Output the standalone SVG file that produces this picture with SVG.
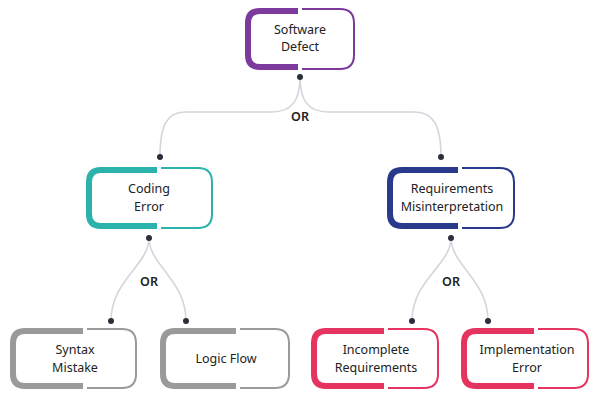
<svg xmlns="http://www.w3.org/2000/svg" width="601" height="402" viewBox="0 0 601 402">
<style>
text{font-family:"Noto Sans","Open Sans",sans-serif;font-size:12.5px;fill:#222;text-anchor:middle}
.th{fill:none;stroke-width:6}
.tn{fill:none;stroke-width:2}
.c{fill:none;stroke:#d3d6dc;stroke-width:1.6}
.or{font-weight:600;font-size:12.5px}
</style>
<rect width="601" height="402" fill="#fff"/>
<g id="connectors">
<path class="c" d="M300,77 C300,100 292,112 272,112 L185,112 C167,112 160,125 160,157"/>
<path class="c" d="M300,77 C300,100 308,112 328,112 L415,112 C433,112 441,125 441,157"/>
<path class="c" d="M149,238 C149,265 111,280 111,321"/>
<path class="c" d="M149,238 C149,265 186,280 186,321"/>
<path class="c" d="M451,238 C451,265 412,280 412,321"/>
<path class="c" d="M451,238 C451,265 488,280 488,321"/>
<g fill="#2a2f3a">
<circle cx="300" cy="77" r="3"/><circle cx="160" cy="157" r="3"/><circle cx="441" cy="157" r="3"/>
<circle cx="149" cy="238" r="3"/><circle cx="451" cy="238" r="3"/>
<circle cx="111" cy="321" r="3"/><circle cx="186" cy="321" r="3"/><circle cx="412" cy="321" r="3"/><circle cx="488" cy="321" r="3"/>
</g>
<text class="or" x="300" y="121">OR</text>
<text class="or" x="149" y="286">OR</text>
<text class="or" x="451" y="286">OR</text>
</g>
<g id="software-defect">
<path class="th" stroke="#7b3a9c" d="M298,11 L260,11 Q248,11 248,23 L248,55 Q248,67 260,67 L298,67"/>
<path class="tn" stroke="#7b3a9c" d="M302,9 L340,9 Q354,9 354,23 L354,55 Q354,69 340,69 L302,69"/>
<text x="300" y="34">Software</text><text x="300" y="51">Defect</text>
</g>
<g id="coding-error">
<path class="th" stroke="#2bb3ab" d="M157,170 L101,170 Q89,170 89,182 L89,214 Q89,226 101,226 L157,226"/>
<path class="tn" stroke="#2bb3ab" d="M161,168 L198,168 Q212,168 212,182 L212,214 Q212,228 198,228 L161,228"/>
<text x="149" y="193">Coding</text><text x="149" y="211">Error</text>
</g>
<g id="requirements">
<path class="th" stroke="#2a3a8a" d="M458,170 L402,170 Q390,170 390,182 L390,214 Q390,226 402,226 L458,226"/>
<path class="tn" stroke="#2a3a8a" d="M462,168 L500,168 Q514,168 514,182 L514,214 Q514,228 500,228 L462,228"/>
<text x="452" y="193">Requirements</text><text x="452" y="211">Misinterpretation</text>
</g>
<g id="syntax-mistake">
<path class="th" stroke="#9a9a9a" d="M83,331 L25,331 Q13,331 13,343 L13,374 Q13,386 25,386 L83,386"/>
<path class="tn" stroke="#9a9a9a" d="M87,329 L122,329 Q136,329 136,343 L136,374 Q136,388 122,388 L87,388"/>
<text x="75" y="354">Syntax</text><text x="75" y="372">Mistake</text>
</g>
<g id="logic-flow">
<path class="th" stroke="#9a9a9a" d="M236,331 L175,331 Q163,331 163,343 L163,374 Q163,386 175,386 L236,386"/>
<path class="tn" stroke="#9a9a9a" d="M240,329 L275,329 Q289,329 289,343 L289,374 Q289,388 275,388 L240,388"/>
<text x="226" y="363">Logic Flow</text>
</g>
<g id="incomplete">
<path class="th" stroke="#e5345f" d="M384,331 L326,331 Q314,331 314,343 L314,374 Q314,386 326,386 L384,386"/>
<path class="tn" stroke="#e5345f" d="M388,329 L424,329 Q438,329 438,343 L438,374 Q438,388 424,388 L388,388"/>
<text x="376" y="354">Incomplete</text><text x="376" y="372">Requirements</text>
</g>
<g id="implementation">
<path class="th" stroke="#e5345f" d="M534,331 L476,331 Q464,331 464,343 L464,374 Q464,386 476,386 L534,386"/>
<path class="tn" stroke="#e5345f" d="M538,329 L574,329 Q588,329 588,343 L588,374 Q588,388 574,388 L538,388"/>
<text x="527" y="354">Implementation</text><text x="527" y="372">Error</text>
</g>
</svg>
